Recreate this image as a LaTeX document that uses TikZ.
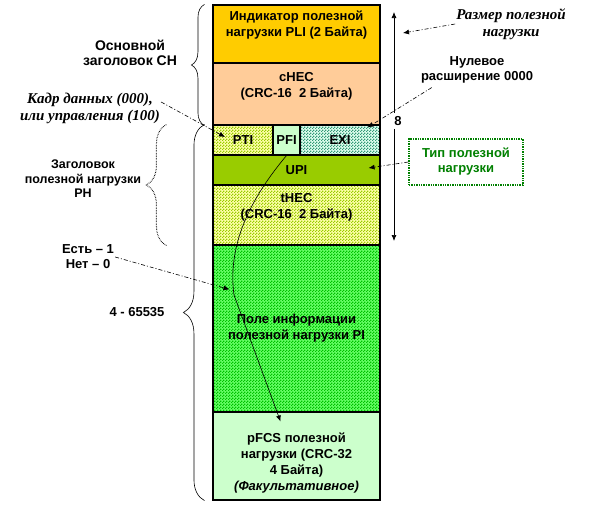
\documentclass[tikz,border=0pt]{standalone}
\usepackage{fontspec}
\setmainfont{Liberation Sans}
\newfontfamily\serifru{Liberation Serif}
\usetikzlibrary{arrows.meta,positioning,calc,decorations.pathreplacing,patterns.meta}

\definecolor{pliclr}{HTML}{FFCC00}
\definecolor{checclr}{HTML}{FFCC99}
\definecolor{creamclr}{HTML}{FFFFAA}
\definecolor{oliveclr}{HTML}{99CC00}
\definecolor{paleclr}{HTML}{CCFFCC}
\definecolor{tealclr}{HTML}{339977}
\definecolor{tealbg}{HTML}{E0FFF0}
\definecolor{greenbg}{HTML}{66FF66}
\definecolor{greenfg}{HTML}{00C000}
\definecolor{typclr}{HTML}{008000}

\tikzdeclarepattern{
  name=chk,
  type=uncolored,
  bottom left={(0pt,0pt)},
  top right={(3pt,3pt)},
  tile size={(3pt,3pt)},
  code={
    \fill (0pt,0pt) rectangle (1.5pt,1.5pt);
    \fill (1.5pt,1.5pt) rectangle (3pt,3pt);
  }
}

\begin{document}
\begin{tikzpicture}[x=1pt, y=-1pt,
    fld/.style={draw=black, line width=1.1pt, minimum width=167pt, inner sep=0pt,
                align=center, font=\fontsize{13}{16}\selectfont\bfseries},
    chkd/.style 2 args={preaction={fill=#1}, pattern=chk, pattern color=#2},
    ftxt/.style={align=center, inner sep=0pt, font=\fontsize{13}{16}\selectfont\bfseries},
    lbl/.style={align=center, inner sep=1pt, font=\fontsize{13}{15}\selectfont\bfseries},
    lblit/.style={align=center, inner sep=1pt, font=\serifru\fontsize{15}{17}\selectfont\bfseries\itshape},
    lbls/.style={align=center, inner sep=1pt, font=\fontsize{14}{15.5}\selectfont\bfseries},
    arrd/.style={-{Latex[length=6pt,width=5pt]}, line width=0.6pt,
                 dash pattern=on 4pt off 2pt on 1pt off 2pt},
    vln/.style={-{Latex[length=6pt,width=5pt]}, line width=0.7pt},
    brc/.style={decorate, line width=0.6pt},
  ]
  \useasboundingbox (0,0) rectangle (599,504);

  % frame fields
  \node[fld, fill=pliclr, minimum height=58pt] (pli) at (296.5,34) {};
  \node[fld, fill=checclr, minimum height=62pt] (chec) at (296.5,94) {};
  \node[fld, chkd={creamclr}{oliveclr}, minimum width=60pt, minimum height=30pt] (pti) at (243,140) {PTI};
  \node[fld, fill=paleclr, minimum width=27pt, minimum height=30pt] (pfi) at (286.5,140) {PFI};
  \node[fld, chkd={tealbg}{tealclr}, minimum width=80pt, minimum height=30pt] (exi) at (340,140) {EXI};
  \node[fld, fill=oliveclr, minimum height=30pt] (upi) at (296.5,170) {UPI};
  \node[fld, chkd={creamclr}{oliveclr}, minimum height=60pt] (thec) at (296.5,215) {};
  \node[fld, chkd={greenbg}{greenfg}, minimum height=167pt] (pi) at (296.5,328.5) {Поле информации\\полезной нагрузки PI};
  \node[fld, fill=paleclr, minimum height=88pt] (pfcs) at (296.5,456) {};

  \node[ftxt] (pli-t) at (296.5,25) {Индикатор полезной\\нагрузки PLI (2 Байта)};
  \node[ftxt] (chec-t) at (296.5,86) {cHEC\\(CRC-16~ 2 Байта)};
  \node[ftxt] (thec-t) at (296.5,207) {tHEC\\(CRC-16~ 2 Байта)};
  \node[ftxt] (pfcs-t) at (296.5,463) {pFCS полезной\\нагрузки (CRC-32\\4 Байта)\\\textit{(Факультативное)}};

  % right side
  \coordinate (sztop) at (394,12);
  \coordinate (szbot) at (394,241);
  \node[lbl, inner sep=3pt] (eight) at (398,121) {8};
  \draw[vln] (eight.north -| sztop) -- (sztop);
  \draw[vln] (eight.south -| szbot) -- (szbot);

  \node[lblit] (size-lbl) at (511,24) {Размер полезной\\нагрузки};
  \node[lbl] (zero-lbl) at (477,70) {Нулевое\\расширение 0000};
  \node[lbl, text=typclr, draw=typclr, densely dotted, line width=1.4pt,
        minimum width=114pt, minimum height=46pt] (typ) at (466,162) {Тип полезной\\нагрузки};

  \draw[arrd] (size-lbl.west) -- ([xshift=9pt,yshift=-21pt]sztop);
  \draw[arrd] ([xshift=12pt,yshift=-3pt]zero-lbl.south west) -- ([xshift=-13pt,yshift=-3pt]exi.north east);
  \draw[arrd] (typ.west) -- ([xshift=-12pt,yshift=2pt]upi.east);

  % left side
  \node[lbls] (ch-lbl) at (130,53) {Основной\\заголовок СН};
  \node[lblit] (frm-lbl) at (90,108) {Кадр данных (000),\\или управления (100)};
  \node[lbls, font=\fontsize{12.5}{14.5}\selectfont\bfseries] (ph-lbl) at (83,179) {Заголовок\\полезной нагрузки\\РН};
  \node[lbl] (yes-lbl) at (88,257) {Есть – 1\\Нет – 0};
  \node[lbl] (len-lbl) at (137,312) {4 - 65535};

  \draw[brc, decoration={brace, amplitude=13pt}] ([xshift=-8pt]chec.south west) -- ([xshift=-8pt]pli.north west);
  \draw[brc, densely dotted, line width=1pt, decoration={brace, amplitude=20pt}] ([xshift=-46pt]thec.south west) -- ([xshift=-46pt]pti.north west);
  \draw[brc, decoration={brace, amplitude=21pt}] ([xshift=-8pt]pfcs.south west) -- ([xshift=-8pt]pti.north west);

  \draw[arrd] ([yshift=6pt]frm-lbl.east) -- ([xshift=-18pt,yshift=3pt]pti.center);
  \draw[arrd] (yes-lbl.east) -- ([xshift=17pt,yshift=-45pt]pi.north west);

  % PFI -> pFCS
  \draw[vln, line width=0.6pt] (pfi.south) .. controls (245,205) and (228,250) .. (234,295)
    -- ([xshift=-16pt,yshift=-10pt]pfcs.north);
\end{tikzpicture}
\end{document}
